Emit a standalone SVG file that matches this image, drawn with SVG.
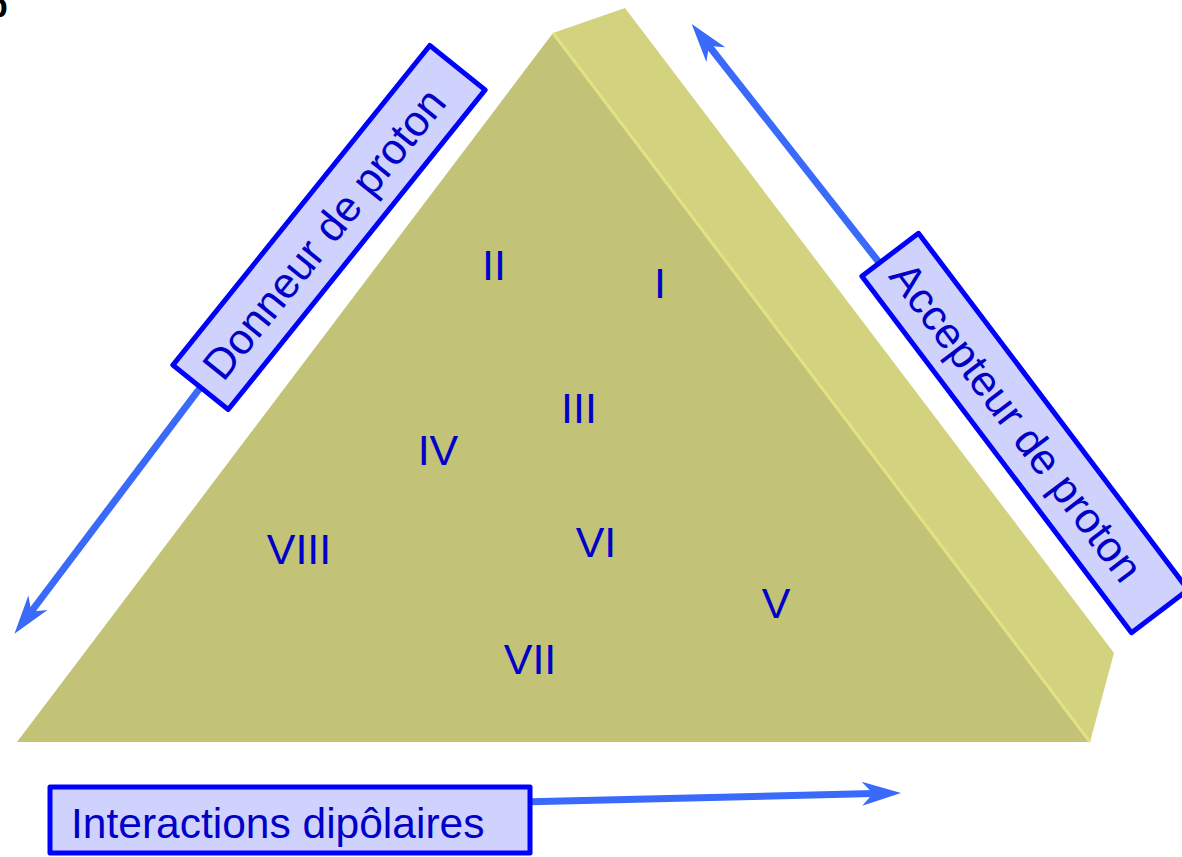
<svg xmlns="http://www.w3.org/2000/svg" width="1182" height="857" viewBox="0 0 1182 857">
  <style>
    .label-box { fill: #D0D2FE; stroke: #0000FF; stroke-width: 5; stroke-linejoin: round; }
    .label-text { font-family: "Liberation Sans", Arial, sans-serif; font-size: 43px; fill: #0000C8; }
    .numeral { font-family: "Liberation Sans", Arial, sans-serif; font-size: 43px; fill: #0000C8; text-anchor: middle; }
    .arrow { fill: none; stroke: #3A6AFA; stroke-width: 7; }
  </style>
  <defs>
    <marker id="head" viewBox="-42 -14 46 28" refX="-28" refY="0" markerWidth="46" markerHeight="28" markerUnits="userSpaceOnUse" orient="auto" overflow="visible">
      <path d="M0,0 L-39,-12 L-28,0 L-39,12 Z" fill="#3A6AFA"/>
    </marker>
  </defs>

  <rect width="1182" height="857" fill="#FFFFFF"/>

  <!-- corner letter, mostly off the canvas -->
  <text x="-13" y="17" font-family="Liberation Sans, Arial, sans-serif" font-weight="bold" font-size="34" fill="#000000">b</text>

  <!-- prism -->
  <g id="prism">
    <polygon points="553,33 625,8 1114,653 1090,742" fill="#D3D27F"/>
    <polygon points="553,33 17,742 1090,742" fill="#C3C377"/>
    <line x1="553" y1="33" x2="1090" y2="742" stroke="#E3E283" stroke-width="3"/>
  </g>

  <!-- numerals -->
  <g id="numerals">
    <text class="numeral" x="494" y="280">II</text>
    <text class="numeral" x="660" y="298">I</text>
    <text class="numeral" x="579" y="423">III</text>
    <text class="numeral" x="438" y="465">IV</text>
    <text class="numeral" x="299" y="564">VIII</text>
    <text class="numeral" x="596" y="557">VI</text>
    <text class="numeral" x="776" y="618">V</text>
    <text class="numeral" x="530" y="674">VII</text>
  </g>

  <!-- connectors -->
  <g id="connectors">
    <path class="arrow" d="M200,388 L31.3,611.5" marker-end="url(#head)"/>
    <path class="arrow" d="M885,270 L709,46" marker-end="url(#head)"/>
    <path class="arrow" d="M520,802 L873,793.6" marker-end="url(#head)"/>
  </g>

  <!-- labels -->
  <g id="donneur" transform="translate(329,227.5) rotate(-51.2)">
    <rect class="label-box" x="-205" y="-35.5" width="410" height="71"/>
    <text class="label-text" x="-8" y="15" text-anchor="middle">Donneur de proton</text>
  </g>
  <g id="accepteur" transform="translate(1025,433) rotate(52.9)">
    <rect class="label-box" x="-223.5" y="-35.5" width="447" height="71"/>
    <text class="label-text" x="-14" y="15" text-anchor="middle">Accepteur de proton</text>
  </g>
  <g id="interactions">
    <rect class="label-box" x="50" y="787" width="480" height="66"/>
    <text class="label-text" x="71" y="838" style="font-size:42.5px">Interactions dipôlaires</text>
  </g>
</svg>
